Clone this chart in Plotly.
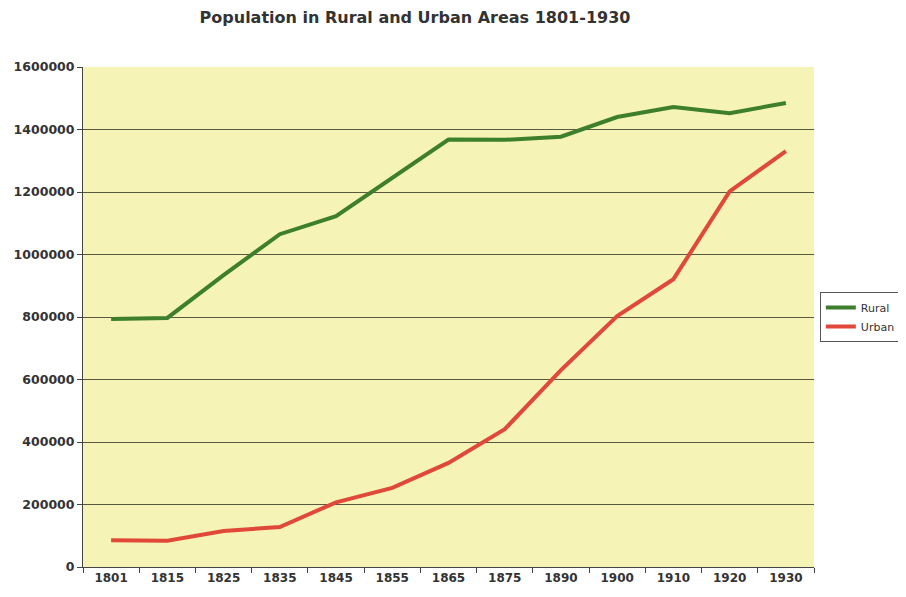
import plotly.graph_objects as go

years = ["1801", "1815", "1825", "1835", "1845", "1855", "1865", "1875", "1890", "1900", "1910", "1920", "1930"]
rural = [794000, 797000, 934000, 1065000, 1123000, 1245000, 1368000, 1367000, 1377000, 1440000, 1472000, 1452000, 1485000]
urban = [86000, 84000, 115000, 128000, 207000, 253000, 333000, 441000, 630000, 803000, 921000, 1202000, 1331000]
y_ticks = [0, 200000, 400000, 600000, 800000, 1000000, 1200000, 1400000, 1600000]

W, H = 898, 589  # page body has an 8px margin

fig = go.Figure()
fig.add_trace(go.Scatter(x=years, y=rural, mode="lines", name="Rural",
                         line=dict(color="#3d7f2c", width=4)))
fig.add_trace(go.Scatter(x=years, y=urban, mode="lines", name="Urban",
                         line=dict(color="#e0483a", width=4)))

fig.update_layout(
    width=W, height=H,
    paper_bgcolor="white",
    plot_bgcolor="#f6f3b6",
    margin=dict(l=75, r=92, t=59, b=30, autoexpand=False),
    title=dict(text="<b>Population in Rural and Urban Areas 1801-1930</b>",
               x=407 / W, xanchor="center", y=1 - 9 / H, yanchor="middle",
               font=dict(family="DejaVu Sans", size=16, color="#333333")),
    font=dict(family="DejaVu Sans", color="#333333"),
    legend=dict(x=1.008, xanchor="left", y=0.5, yanchor="middle",
                bordercolor="#555555", borderwidth=1, bgcolor="white",
                font=dict(family="DejaVu Sans", size=11, color="#333333"),
                itemwidth=30, tracegroupgap=0),
    showlegend=True,
)
fig.update_xaxes(type="category", showgrid=False, showline=True, linecolor="#444444",
                 linewidth=1, ticks="outside", tickson="boundaries", ticklen=5,
                 tickcolor="#444444", automargin=False,
                 tickfont=dict(family="DejaVu Sans", size=12, color="#333333", weight="bold"),
                 range=[-0.5, len(years) - 0.5])
fig.update_yaxes(range=[0, 1600000], tickvals=y_ticks, ticktext=[str(v) for v in y_ticks],
                 showgrid=True, gridcolor="#5a5a40", gridwidth=1, automargin=False,
                 showline=True, linecolor="#444444", linewidth=1,
                 ticks="outside", ticklen=5, tickcolor="#444444", zeroline=False,
                 tickfont=dict(family="DejaVu Sans", size=12.5, color="#333333", weight="bold"))

fig.write_html("out.html")
